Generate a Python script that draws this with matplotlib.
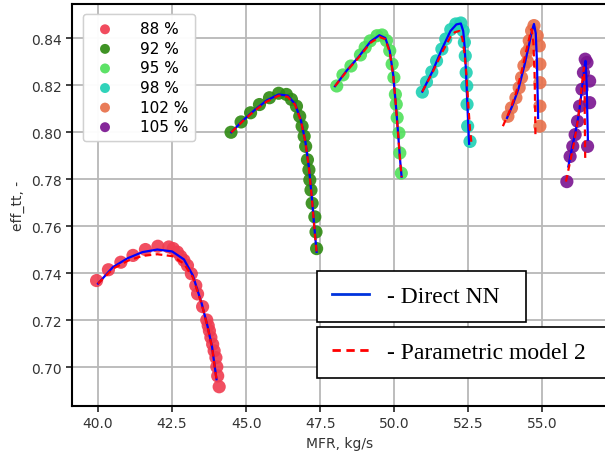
import matplotlib.pyplot as plt
from matplotlib.lines import Line2D

# speed lines, % of design
speeds = ['88 %', '92 %', '95 %', '98 %', '102 %', '105 %']
colors = ['#f03c50', '#2e8a12', '#4fe05a', '#1ed0b4', '#e8704a', '#7a1490']

# measured points (scatter)
pts_x = [
    [39.95, 40.35, 40.77, 41.18, 41.60, 42.02, 42.39, 42.54, 42.68, 42.79, 42.90, 43.02, 43.15,
     43.30, 43.36, 43.53, 43.67, 43.72, 43.76, 43.81, 43.87, 43.92, 43.98, 44.01, 44.04, 44.09],
    [44.49, 44.83, 45.15, 45.45, 45.79, 46.10, 46.36, 46.53, 46.70, 46.81, 46.89, 46.96, 47.01,
     47.07, 47.12, 47.15, 47.19, 47.23, 47.32, 47.36, 47.38],
    [48.06, 48.27, 48.54, 48.86, 49.02, 49.19, 49.42, 49.59, 49.74, 49.85, 49.93, 49.99, 50.04,
     50.07, 50.10, 50.16, 50.19, 50.24],
    [50.95, 51.09, 51.27, 51.43, 51.61, 51.74, 51.91, 52.08, 52.25, 52.33, 52.37, 52.40, 52.43,
     52.45, 52.46, 52.48, 52.56],
    [53.84, 53.96, 54.11, 54.22, 54.30, 54.38, 54.47, 54.56, 54.64, 54.72, 54.83, 54.90, 54.92,
     54.92, 54.92, 54.92, 54.50, 54.58],
    [55.83, 55.94, 56.03, 56.11, 56.19, 56.26, 56.34, 56.39, 56.45, 56.51, 56.60, 56.60, 56.53],
]
pts_y = [
    [0.7368, 0.7414, 0.7446, 0.7475, 0.7500, 0.7514, 0.7511, 0.7504, 0.7489, 0.7471, 0.7454, 0.7432,
     0.7397, 0.7347, 0.7311, 0.7257, 0.7200, 0.7176, 0.7154, 0.7126, 0.7097, 0.7069, 0.7040, 0.7001,
     0.6962, 0.6916],
    [0.7999, 0.8043, 0.8082, 0.8117, 0.8146, 0.8165, 0.8160, 0.8139, 0.8110, 0.8067, 0.8025, 0.7982,
     0.7939, 0.7882, 0.7839, 0.7796, 0.7753, 0.7697, 0.7639, 0.7575, 0.7504],
    [0.8196, 0.8243, 0.8281, 0.8328, 0.8360, 0.8388, 0.8410, 0.8413, 0.8389, 0.8346, 0.8289, 0.8232,
     0.8160, 0.8118, 0.8061, 0.7996, 0.7911, 0.7825],
    [0.8170, 0.8213, 0.8256, 0.8303, 0.8353, 0.8396, 0.8436, 0.8460, 0.8464, 0.8431, 0.8382, 0.8324,
     0.8253, 0.8196, 0.8118, 0.8025, 0.7960],
    [0.8067, 0.8103, 0.8146, 0.8189, 0.8232, 0.8282, 0.8339, 0.8389, 0.8431, 0.8453, 0.8410, 0.8367,
     0.8289, 0.8210, 0.8110, 0.8025, 0.8300, 0.8360],
    [0.7789, 0.7896, 0.7939, 0.7989, 0.8046, 0.8110, 0.8182, 0.8253, 0.8310, 0.8296, 0.8217, 0.8125,
     0.7939],
]

# Direct NN prediction
nn_x = [
    [40.0, 40.5, 41.0, 41.5, 42.0, 42.5, 42.9, 43.2, 43.5, 43.7, 43.85, 44.0],
    [44.5, 44.9, 45.3, 45.7, 46.1, 46.4, 46.65, 46.85, 47.0, 47.12, 47.22, 47.3, 47.38],
    [48.0, 48.4, 48.8, 49.2, 49.5, 49.7, 49.85, 49.97, 50.06, 50.14, 50.2, 50.25],
    [50.95, 51.3, 51.6, 51.9, 52.1, 52.25, 52.33, 52.38, 52.42, 52.46, 52.5, 52.53],
    [53.81, 54.0, 54.2, 54.4, 54.55, 54.65, 54.72, 54.78, 54.82, 54.84, 54.86],
    [55.88, 56.0, 56.12, 56.24, 56.34, 56.42, 56.46, 56.5, 56.52, 56.54],
]
nn_y = [
    [0.7355, 0.7425, 0.7463, 0.7489, 0.7500, 0.7492, 0.7458, 0.7390, 0.7270, 0.7172, 0.7085, 0.6948],
    [0.7999, 0.8050, 0.8095, 0.8135, 0.8160, 0.8155, 0.8120, 0.8050, 0.7960, 0.7850, 0.7720, 0.7600, 0.7490],
    [0.8195, 0.8262, 0.8320, 0.8385, 0.8412, 0.8400, 0.8345, 0.8240, 0.8110, 0.7980, 0.7880, 0.7810],
    [0.8172, 0.8260, 0.8350, 0.8430, 0.8458, 0.8462, 0.8430, 0.8360, 0.8270, 0.8150, 0.8030, 0.7950],
    [0.8060, 0.8115, 0.8185, 0.8285, 0.8370, 0.8430, 0.8460, 0.8420, 0.8300, 0.8180, 0.8060],
    [0.7853, 0.7930, 0.8000, 0.8080, 0.8180, 0.8270, 0.8303, 0.8200, 0.8080, 0.7968],
]

# Parametric model 2 prediction
pm_x = [
    [40.0, 40.5, 41.0, 41.5, 42.0, 42.5, 42.9, 43.2, 43.5, 43.7, 43.85, 44.0],
    [44.5, 44.9, 45.3, 45.7, 46.1, 46.4, 46.65, 46.85, 47.0, 47.12, 47.22, 47.3, 47.38],
    [48.0, 48.4, 48.8, 49.2, 49.5, 49.7, 49.85, 49.97, 50.06, 50.14, 50.2, 50.25],
    [50.95, 51.3, 51.6, 51.9, 52.05, 52.2, 52.3, 52.38, 52.44, 52.5, 52.56, 52.62],
    [53.67, 53.9, 54.1, 54.3, 54.45, 54.58, 54.64, 54.70, 54.74, 54.76, 54.77],
    [55.80, 55.95, 56.08, 56.2, 56.3, 56.37, 56.41, 56.43, 56.44, 56.45],
]
pm_y = [
    [0.7355, 0.7418, 0.7452, 0.7473, 0.7480, 0.7472, 0.7440, 0.7382, 0.7268, 0.7170, 0.7083, 0.6946],
    [0.7999, 0.8048, 0.8092, 0.8130, 0.8155, 0.8150, 0.8117, 0.8048, 0.7958, 0.7848, 0.7718, 0.7598, 0.7488],
    [0.8195, 0.8260, 0.8317, 0.8380, 0.8405, 0.8395, 0.8340, 0.8237, 0.8108, 0.7978, 0.7878, 0.7808],
    [0.8172, 0.8255, 0.8335, 0.8405, 0.8425, 0.8430, 0.8400, 0.8330, 0.8240, 0.8120, 0.8010, 0.7940],
    [0.8025, 0.8090, 0.8160, 0.8255, 0.8340, 0.8410, 0.8438, 0.8380, 0.8250, 0.8100, 0.7975],
    [0.7789, 0.7880, 0.7960, 0.8050, 0.8150, 0.8240, 0.8275, 0.8150, 0.8000, 0.7890],
]

fig = plt.figure(figsize=(6.05, 4.52), dpi=100)
ax = fig.add_axes([0.119, 0.1, 0.885, 0.889])

for i in range(len(speeds)):
    ax.scatter(pts_x[i], pts_y[i], s=90, color=colors[i], alpha=0.9, edgecolors='none',
               label=speeds[i], zorder=3)
for i in range(len(speeds)):
    ax.plot(nn_x[i], nn_y[i], color='blue', lw=1.6, zorder=4)
    ax.plot(pm_x[i], pm_y[i], color='red', lw=1.6, ls='--', dashes=(3, 2), zorder=5)

ax.set_xlim(39.12, 57.2)
ax.set_ylim(0.6835, 0.8545)
ax.set_xticks([40.0, 42.5, 45.0, 47.5, 50.0, 52.5, 55.0])
ax.set_yticks([0.70, 0.72, 0.74, 0.76, 0.78, 0.80, 0.82, 0.84])
ax.xaxis.set_major_formatter(plt.FormatStrFormatter('%.1f'))
ax.yaxis.set_major_formatter(plt.FormatStrFormatter('%.2f'))
ax.tick_params(labelsize=10, width=1.2, length=4, colors='#222222', labelcolor='#333333')
ax.grid(True, color='#b8b8b8', lw=1.3)
ax.set_axisbelow(True)
for sp in ax.spines.values():
    sp.set_linewidth(1.5)
ax.set_xlabel('MFR, kg/s', fontsize=10, color='#333333')
ax.set_ylabel('eff_tt, -', fontsize=10, color='#333333')

leg1 = ax.legend(loc='upper left', fontsize=11, handletextpad=1.3, labelspacing=0.3,
                 borderpad=0.45, bbox_to_anchor=(0.006, 0.993), markerscale=0.75)
ax.add_artist(leg1)

serif = {'family': 'Liberation Serif', 'size': 17}
h_nn = [Line2D([], [], color='#0033dd', lw=2)]
h_pm = [Line2D([], [], color='red', lw=2, ls='--', dashes=(3, 2))]
leg2 = fig.legend(h_nn, ['- Direct NN  '], loc='upper left', bbox_to_anchor=(0.524, 0.398),
                  prop=serif, fancybox=False, framealpha=1, edgecolor='black',
                  handlelength=1.6, handletextpad=0.75, borderpad=0.62, borderaxespad=0)
leg2.get_frame().set_linewidth(1.2)
leg3 = fig.legend(h_pm, ['- Parametric model 2  '], loc='upper left', bbox_to_anchor=(0.524, 0.274),
                  prop=serif, fancybox=False, framealpha=1, edgecolor='black',
                  handlelength=1.6, handletextpad=0.75, borderpad=0.62, borderaxespad=0)
leg3.get_frame().set_linewidth(1.2)

fig.savefig('out.png', dpi=100)
